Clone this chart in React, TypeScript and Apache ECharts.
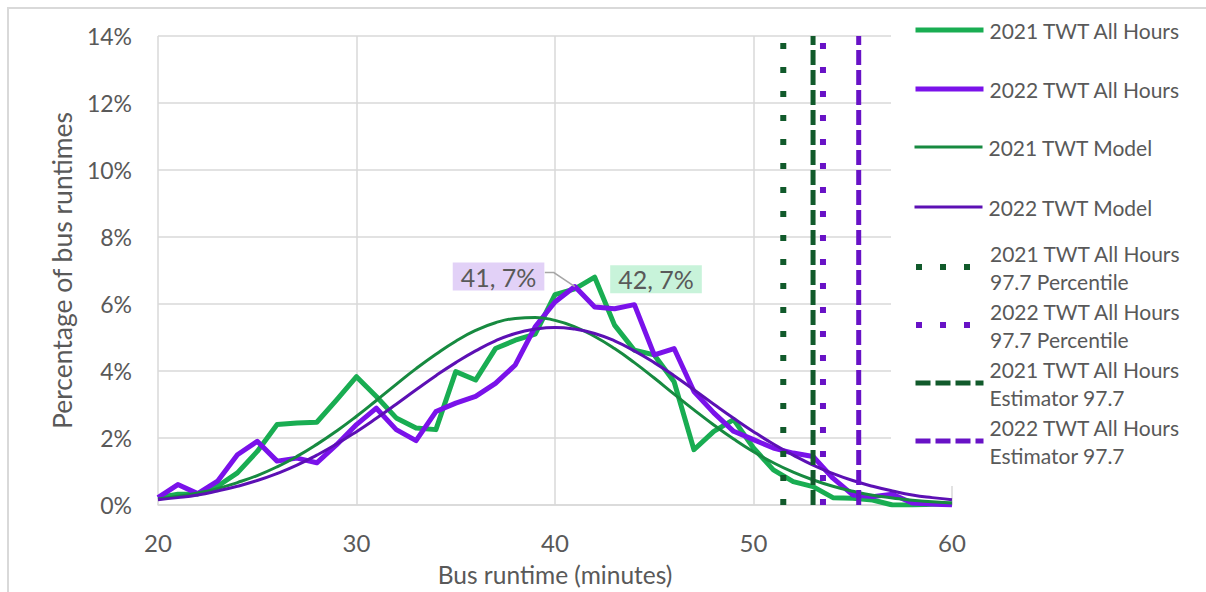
import React, { useEffect, useRef } from "react";
import * as echarts from "echarts";

// Bus runtime in minutes (x positions of every sample)
const minutes = [
  20, 21, 22, 23, 24, 25, 26, 27, 28, 29,
  30, 31, 32, 33, 34, 35, 36, 37, 38, 39,
  40, 41, 42, 43, 44, 45, 46, 47, 48, 49,
  50, 51, 52, 53, 54, 55, 56, 57, 58, 59, 60,
];

// Share of runtimes (%) per minute
const all2021 = [
  0.22, 0.32, 0.33, 0.56, 0.96, 1.6, 2.4, 2.45, 2.47, 3.14,
  3.83, 3.24, 2.6, 2.3, 2.25, 3.98, 3.73, 4.67, 4.92, 5.1,
  6.28, 6.45, 6.8, 5.37, 4.62, 4.48, 3.68, 1.65, 2.2, 2.55,
  1.7, 1.05, 0.7, 0.55, 0.22, 0.2, 0.15, 0.0, 0.0, 0.02, 0.03,
];
const all2022 = [
  0.22, 0.61, 0.34, 0.71, 1.5, 1.9, 1.31, 1.4, 1.26, 1.8,
  2.4, 2.89, 2.25, 1.92, 2.79, 3.04, 3.24, 3.63, 4.18, 5.32,
  6.06, 6.52, 5.91, 5.86, 5.98, 4.48, 4.67, 3.39, 2.75, 2.2,
  1.95, 1.7, 1.55, 1.45, 0.8, 0.3, 0.25, 0.32, 0.06, 0.03, 0.0,
];
const model2021 = [
  0.18, 0.26, 0.36, 0.49, 0.67, 0.88, 1.14, 1.45, 1.81, 2.21,
  2.65, 3.12, 3.6, 4.07, 4.5, 4.89, 5.21, 5.44, 5.57, 5.6,
  5.51, 5.32, 5.03, 4.67, 4.25, 3.79, 3.31, 2.84, 2.39, 1.97,
  1.59, 1.26, 0.98, 0.75, 0.56, 0.41, 0.29, 0.21, 0.14, 0.1, 0.06,
];
const model2022 = [
  0.16, 0.22, 0.3, 0.42, 0.56, 0.73, 0.94, 1.19, 1.49, 1.82,
  2.19, 2.59, 3.01, 3.44, 3.86, 4.25, 4.6, 4.9, 5.12, 5.25,
  5.3, 5.25, 5.12, 4.9, 4.6, 4.25, 3.86, 3.44, 3.01, 2.59,
  2.19, 1.82, 1.49, 1.19, 0.94, 0.73, 0.56, 0.42, 0.3, 0.22, 0.16,
];

// 97.7 thresholds (minutes)
const pct2021 = 51.5;
const pct2022 = 53.5;
const est2021 = 53.0;
const est2022 = 55.3;

// Points called out with a value label
const callout2022 = 41;
const callout2021 = 42;

// Axis ranges
const xMin = 20;
const xMax = 60;
const xStep = 10;
const yMin = 0;
const yMax = 14;
const yStep = 2;

const FONT = "Lato, 'Noto Sans', sans-serif";
const TEXT = "#595959";
const GRID = "#d9d9d9";

const C_ALL21 = "#19ad52";
const C_ALL22 = "#7a12ea";
const C_MOD21 = "#178a40";
const C_MOD22 = "#5c10b4";
const C_LINE21 = "#115a2b";
const C_LINE22 = "#6812c6";

const W_ALL = 5;
const W_MOD = 3;
const W_DOT = 6;
const W_DASH = 5;

const N_ALL21 = "2021 TWT All Hours";
const N_ALL22 = "2022 TWT All Hours";
const N_MOD21 = "2021 TWT Model";
const N_MOD22 = "2022 TWT Model";
const N_PCT21 = "2021 TWT All Hours\n97.7 Percentile";
const N_PCT22 = "2022 TWT All Hours\n97.7 Percentile";
const N_EST21 = "2021 TWT All Hours\nEstimator 97.7";
const N_EST22 = "2022 TWT All Hours\nEstimator 97.7";

const valueLabel = (p: any) => `${p.value[0]}, ${Math.round(p.value[1])}%`;

function withCallout(ys: number[], at: number, color: string, label: any) {
  return minutes.map((m, i) => {
    if (m !== at) return [m, ys[i]];
    return {
      value: [m, ys[i]],
      symbol: "circle",
      symbolSize: 1,
      itemStyle: { color },
      label: {
        show: true,
        formatter: valueLabel,
        color: TEXT,
        fontFamily: FONT,
        fontSize: 25,
        padding: [2, 8, 1, 8],
        ...label,
      },
    };
  });
}

const pairs = (ys: number[]) => minutes.map((m, i) => [m, ys[i]]);
const vline = (x: number) => [
  [x, yMin],
  [x, yMax],
];

function legendAt(name: string, top: number, twoLine: boolean, width: number) {
  return {
    left: 913,
    top,
    padding: 0,
    orient: "vertical",
    itemWidth: 68,
    itemHeight: 14,
    itemGap: 0,
    selectedMode: false,
    itemStyle: { opacity: 0 },
    lineStyle: { width },
    data: [name],
    textStyle: {
      color: TEXT,
      fontFamily: FONT,
      fontSize: 21,
      lineHeight: 28,
      padding: twoLine ? [28, 0, 0, 1] : [0, 0, 0, 1],
    },
  };
}

export default function App() {
  const ref = useRef<HTMLDivElement>(null);

  useEffect(() => {
    if (!ref.current) return;
    const chart = echarts.init(ref.current, null, { renderer: "svg" });

    const option: any = {
      animation: false,
      backgroundColor: "#ffffff",
      textStyle: { fontFamily: FONT },
      grid: { left: 158, top: 36, width: 794, height: 471, containLabel: false },
      xAxis: {
        type: "value",
        min: xMin,
        max: xMax,
        interval: xStep,
        name: "Bus runtime (minutes)",
        nameLocation: "middle",
        nameGap: 57,
        nameTextStyle: { color: TEXT, fontFamily: FONT, fontSize: 24.5 },
        axisLine: { show: true, lineStyle: { color: GRID, width: 1.5 } },
        axisTick: { show: false },
        axisLabel: { color: TEXT, fontFamily: FONT, fontSize: 24, margin: 25 },
        splitLine: { show: true, lineStyle: { color: GRID, width: 1.5 } },
      },
      yAxis: {
        type: "value",
        min: yMin,
        max: yMax,
        interval: yStep,
        name: "Percentage of bus runtimes",
        nameLocation: "middle",
        nameGap: 82,
        nameTextStyle: { color: TEXT, fontFamily: FONT, fontSize: 26.5 },
        axisLine: { show: false },
        axisTick: { show: false },
        axisLabel: {
          color: TEXT,
          fontFamily: FONT,
          fontSize: 23,
          margin: 26,
          formatter: "{value}%",
        },
        splitLine: { show: true, lineStyle: { color: GRID, width: 1.5 } },
      },
      legend: [
        legendAt(N_ALL21, 16, false, W_ALL),
        legendAt(N_ALL22, 75, false, W_ALL),
        legendAt(N_MOD21, 133, false, W_MOD),
        legendAt(N_MOD22, 193, false, W_MOD),
        legendAt(N_PCT21, 225, true, W_DOT),
        legendAt(N_PCT22, 283, true, W_DOT),
        legendAt(N_EST21, 341, true, W_DASH),
        legendAt(N_EST22, 399, true, W_DASH),
      ],
      graphic: [
        {
          id: "frame",
          type: "rect",
          silent: true,
          z: 0,
          shape: { x: 8, y: 8, width: 1400, height: 800 },
          style: { fill: "none", stroke: GRID, lineWidth: 2 },
        },
        {
          id: "legendBox",
          type: "rect",
          silent: true,
          z: 3,
          shape: { x: 891, y: 12, width: 330, height: 474 },
          style: { fill: "#ffffff" },
        },
      ],
      series: [
        {
          name: N_ALL21,
          type: "line",
          symbol: "none",
          data: withCallout(all2021, callout2021, C_ALL21, {
            position: "right",
            distance: 15,
            offset: [0, 2],
            backgroundColor: "#c8f3da",
          }),
          lineStyle: { color: C_ALL21, width: W_ALL, join: "round" },
          itemStyle: { color: C_ALL21 },
        },
        {
          name: N_ALL22,
          type: "line",
          symbol: "none",
          data: withCallout(all2022, callout2022, C_ALL22, {
            position: "left",
            distance: 30,
            offset: [0, -10],
            backgroundColor: "#e2d1f7",
          }),
          lineStyle: { color: C_ALL22, width: W_ALL, join: "round" },
          itemStyle: { color: C_ALL22 },
        },
        {
          name: N_MOD21,
          type: "line",
          symbol: "none",
          smooth: true,
          data: pairs(model2021),
          lineStyle: { color: C_MOD21, width: W_MOD },
          itemStyle: { color: C_MOD21 },
        },
        {
          name: N_MOD22,
          type: "line",
          symbol: "none",
          smooth: true,
          data: pairs(model2022),
          lineStyle: { color: C_MOD22, width: W_MOD },
          itemStyle: { color: C_MOD22 },
        },
        {
          name: N_PCT21,
          type: "line",
          symbol: "none",
          data: vline(pct2021),
          lineStyle: { color: C_LINE21, width: W_DOT, type: [6, 18], cap: "butt" },
          itemStyle: { color: C_LINE21 },
        },
        {
          name: N_PCT22,
          type: "line",
          symbol: "none",
          data: vline(pct2022),
          lineStyle: { color: C_LINE22, width: W_DOT, type: [6, 18], cap: "butt" },
          itemStyle: { color: C_LINE22 },
        },
        {
          name: N_EST21,
          type: "line",
          symbol: "none",
          data: vline(est2021),
          lineStyle: { color: C_LINE21, width: W_DASH, type: [15, 5], cap: "butt" },
          itemStyle: { color: C_LINE21 },
        },
        {
          name: N_EST22,
          type: "line",
          symbol: "none",
          data: vline(est2022),
          lineStyle: { color: C_LINE22, width: W_DASH, type: [15, 5], cap: "butt" },
          itemStyle: { color: C_LINE22 },
        },
      ],
    };

    chart.setOption(option);

    // Leader line from the 2022 call-out box to its point
    const idx = minutes.indexOf(callout2022);
    const p = chart.convertToPixel({ gridIndex: 0 }, [callout2022, all2022[idx]]) as number[];
    if (p) {
      chart.setOption({
        graphic: [
          {
            id: "leader",
            type: "polyline",
            silent: true,
            z: 5,
            shape: {
              points: [
                [p[0] - 30, p[1] - 14],
                [p[0] - 21, p[1] - 14],
                [p[0], p[1]],
              ],
            },
            style: { fill: "none", stroke: "#a6a6a6", lineWidth: 1.5 },
          },
        ],
      });
    }

    return () => chart.dispose();
  }, []);

  return (
    <div
      style={{
        position: "fixed",
        left: 0,
        top: 0,
        width: 1206,
        height: 592,
        overflow: "hidden",
        background: "#ffffff",
      }}
    >
      <div ref={ref} style={{ width: 1206, height: 592 }} />
    </div>
  );
}
